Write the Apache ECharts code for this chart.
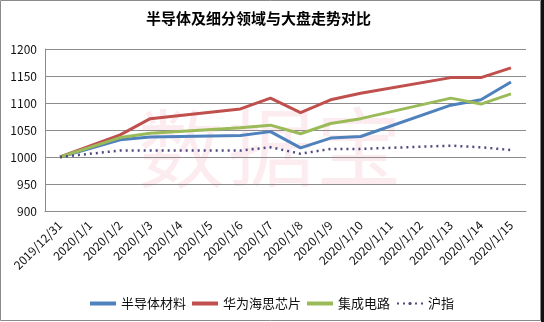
<!DOCTYPE html>
<html><head><meta charset="utf-8">
<script src="https://cdn.jsdelivr.net/npm/echarts@6/dist/echarts.min.js"></script>
<style>html,body{margin:0;padding:0;background:#fff}#c{width:544px;height:322px}</style>
</head><body><div id="c"></div>
<script>
var categories = ['2019/12/31','2020/1/1','2020/1/2','2020/1/3','2020/1/4','2020/1/5','2020/1/6','2020/1/7','2020/1/8','2020/1/9','2020/1/10','2020/1/11','2020/1/12','2020/1/13','2020/1/14','2020/1/15'];
var semiMaterial = [1000, null, 1032, 1037, null, null, 1040, 1047, 1017, 1035, 1038, null, null, 1096, 1106, 1139];
var hisilicon    = [1000, null, 1041, 1071, null, null, 1089, 1109, 1082, 1106, 1118, null, null, 1147, 1147, 1165];
var icircuit     = [1000, null, 1036, 1044, null, null, 1054, 1059, 1043, 1062, 1071, null, null, 1109, 1098, 1117];
var shIndex      = [1000, null, 1012, 1012, null, null, 1012, 1018, 1006, 1015, 1015, null, null, 1021, 1018, 1013];
var yTicks = {min: 900, max: 1200, interval: 50};

var chart = echarts.init(document.getElementById('c'));
var font = '"Noto Sans CJK SC", sans-serif';
function line(name, data, color, dotted) {
  return {
    name: name, type: 'line', data: data, connectNulls: true,
    symbol: 'none', smooth: false,
    lineStyle: {color: color, width: dotted ? 2.5 : 3, type: dotted ? [2, 4] : 'solid'},
    itemStyle: {color: color}
  };
}
var wm = 'rgba(235,120,140,0.14)';
chart.setOption({
  animation: false,
  textStyle: {fontFamily: font},
  title: {
    text: '半导体及细分领域与大盘走势对比', left: 141, top: 6,
    textStyle: {fontFamily: font, fontSize: 15, fontWeight: 'bold', color: '#000'}
  },
  graphic: [
    {type: 'rect', shape: {x: 0.5, y: 0.5, width: 540, height: 320}, style: {fill: 'none', stroke: '#8a8a8a', lineWidth: 1}, z: 100},
    {type: 'rect', shape: {x: 541, y: 0, width: 3, height: 322}, style: {fill: '#111'}, z: 100},
    {type: 'text', left: 138, top: 106, style: {text: '数', font: '86px "Noto Sans CJK SC"', fill: wm}, z: 0},
    {type: 'text', left: 228, top: 104, style: {text: '据', font: '86px "Noto Sans CJK SC"', fill: wm}, z: 0},
    {type: 'text', left: 316, top: 104, style: {text: '宝', font: '86px "Noto Sans CJK SC"', fill: wm}, z: 0}
  ],
  legend: {
    bottom: 7, left: 'center', itemWidth: 26, itemHeight: 4, itemGap: 6,
    textStyle: {fontSize: 13, color: '#111', fontFamily: font},
    data: [
      {name: '半导体材料', icon: 'rect'},
      {name: '华为海思芯片', icon: 'rect'},
      {name: '集成电路', icon: 'rect'},
      {name: '沪指'}
    ]
  },
  grid: {left: 45, right: 18, top: 49, bottom: 111},
  xAxis: {
    type: 'category', data: categories, boundaryGap: true,
    axisLine: {lineStyle: {color: '#8c8c8c'}},
    axisTick: {show: false},
    axisLabel: {rotate: 45, fontSize: 12, color: '#111', interval: 0, margin: 12, fontFamily: font}
  },
  yAxis: {
    type: 'value', min: yTicks.min, max: yTicks.max, interval: yTicks.interval,
    axisLine: {show: true, lineStyle: {color: '#8c8c8c'}},
    axisTick: {show: false},
    axisLabel: {fontSize: 12, color: '#111', margin: 8, fontFamily: font, formatter: function (v) { return String(v); }},
    splitLine: {lineStyle: {color: '#8c8c8c'}}
  },
  series: [
    line('半导体材料', semiMaterial, '#4F81BD'),
    line('华为海思芯片', hisilicon, '#C0504D'),
    line('集成电路', icircuit, '#9BBB59'),
    line('沪指', shIndex, '#4E4A82', true)
  ]
});
</script></body></html>
